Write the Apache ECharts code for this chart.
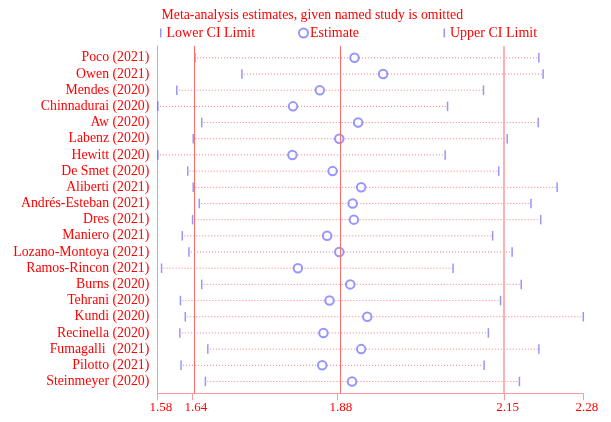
<!DOCTYPE html>
<html><head><meta charset="utf-8">
<script src="https://cdn.jsdelivr.net/npm/echarts@6/dist/echarts.min.js"></script>
<style>html,body{margin:0;padding:0;background:#fff}#c{width:611px;height:422px}</style>
</head><body><div id="c"></div>
<script>
const studies = ['Poco (2021)','Owen (2021)','Mendes (2020)','Chinnadurai (2020)','Aw (2020)','Labenz (2020)','Hewitt (2020)','De Smet (2020)','Aliberti (2021)','Andrés-Esteban (2021)','Dres (2021)','Maniero (2021)','Lozano-Montoya (2021)','Ramos-Rincon (2021)','Burns (2020)','Tehrani (2020)','Kundi (2020)','Recinella (2020)','Fumagalli  (2021)','Pilotto (2021)','Steinmeyer (2020)'];
const lowerCI = [1.642,1.719,1.612,1.581,1.653,1.639,1.581,1.630,1.639,1.649,1.638,1.621,1.632,1.587,1.653,1.618,1.626,1.617,1.663,1.619,1.659];
const estimates = [1.904,1.951,1.847,1.803,1.910,1.879,1.802,1.868,1.915,1.901,1.903,1.859,1.879,1.811,1.897,1.863,1.925,1.853,1.915,1.851,1.900];
const upperCI = [2.207,2.214,2.116,2.057,2.206,2.155,2.053,2.141,2.237,2.194,2.210,2.131,2.163,2.066,2.178,2.144,2.280,2.124,2.207,2.117,2.175];
const xTickValues = [1.58, 1.6375, 1.8758, 2.15, 2.28];
const xTickLabels = ['1.58','1.64','1.88','2.15','2.28'];
const refLines = [1.6375, 1.8758, 2.15];
const titleText = 'Meta-analysis estimates, given named study is omitted';

const rows = studies.map((s, i) => i + 1);
const RED = '#ff0000';
const BLUE = 'rgba(80,80,255,0.75)';
const FONT = 'Liberation Serif';

const chart = echarts.init(document.getElementById('c'), null, {renderer: 'canvas'});
const legendCommon = {
  padding: 0, top: 26, selectedMode: false,
  textStyle: {color: RED, fontFamily: FONT, fontSize: 14}
};
chart.setOption({
  animation: false,
  backgroundColor: '#fff',
  title: {
    text: titleText, left: 161.5, top: 8, padding: 0,
    textStyle: {color: RED, fontFamily: FONT, fontSize: 13.8, fontWeight: 'normal'}
  },
  legend: [
    Object.assign({}, legendCommon, {data: ['Lower CI Limit'], left: 160, icon: 'rect', itemWidth: 1.5, itemHeight: 9}),
    Object.assign({}, legendCommon, {data: ['Estimate'], left: 298, icon: 'emptyCircle', itemWidth: 9, itemHeight: 9,
      textStyle: {color: RED, fontFamily: FONT, fontSize: 14, padding: [0, 0, 0, -3]}}),
    Object.assign({}, legendCommon, {data: ['Upper CI Limit'], left: 443.5, icon: 'rect', itemWidth: 1.5, itemHeight: 9})
  ],
  grid: {left: 157.3, right: 27.7, top: 46, bottom: 28.7, containLabel: false},
  xAxis: {
    type: 'value', min: 1.58, max: 2.28,
    axisLine: {show: true, onZero: false, lineStyle: {color: '#ff9a9a', width: 1}},
    axisTick: {show: true, customValues: xTickValues, length: 7, lineStyle: {color: '#ff9a9a'}},
    axisLabel: {
      customValues: xTickValues,
      formatter: (v) => xTickLabels[xTickValues.indexOf(v)],
      color: RED, fontFamily: FONT, fontSize: 13, margin: 8, padding: [0, 0, 0, 7]
    },
    splitLine: {show: false}
  },
  yAxis: {
    type: 'value', inverse: true, min: 0.27, max: 21.73,
    axisLine: {show: true, onZero: false, lineStyle: {color: '#ff9a9a', width: 1}},
    axisTick: {show: false},
    axisLabel: {
      customValues: rows,
      formatter: (v) => studies[Math.round(v) - 1],
      color: RED, fontFamily: FONT, fontSize: 13.8, margin: 8
    },
    splitLine: {show: false}
  },
  series: [
    {
      name: 'CI', type: 'custom',
      data: rows.map((r, i) => [lowerCI[i], upperCI[i], r]),
      encode: {x: [0, 1], y: 2},
      renderItem: (params, api) => {
        const p1 = api.coord([api.value(0), api.value(2)]);
        const p2 = api.coord([api.value(1), api.value(2)]);
        return {type: 'line', shape: {x1: p1[0] + 2, y1: p1[1], x2: p2[0] - 1, y2: p2[1]},
          style: {stroke: '#ff7a7a', lineWidth: 1, lineDash: [1, 2]}};
      },
      z: 1
    },
    {
      name: 'Lower CI Limit', type: 'scatter',
      data: rows.map((r, i) => [lowerCI[i], r]),
      symbol: 'rect', symbolSize: [1.5, 9.5],
      itemStyle: {color: BLUE},
      z: 3,
      markLine: {
        silent: true, symbol: ['none', 'none'], label: {show: false},
        data: [
          {xAxis: refLines[0], lineStyle: {color: '#ff6a6a', width: 1, type: 'solid'}},
          {xAxis: refLines[1], lineStyle: {color: '#ff6a6a', width: 1, type: 'solid'}},
          {xAxis: refLines[2], lineStyle: {color: '#ffb0b0', width: 2, type: 'solid'}}
        ]
      }
    },
    {
      name: 'Estimate', type: 'scatter',
      data: rows.map((r, i) => [estimates[i], r]),
      symbol: 'emptyCircle', symbolSize: 8.5,
      itemStyle: {color: BLUE, borderColor: BLUE, borderWidth: 1},
      z: 4
    },
    {
      name: 'Upper CI Limit', type: 'scatter',
      data: rows.map((r, i) => [upperCI[i], r]),
      symbol: 'rect', symbolSize: [1.5, 9.5],
      itemStyle: {color: BLUE},
      clip: false,
      z: 3
    }
  ]
});
</script>
</body></html>
